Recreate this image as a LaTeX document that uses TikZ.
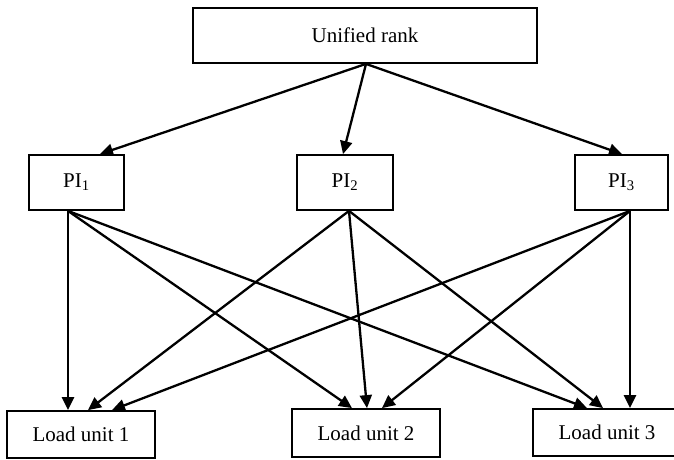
\documentclass[tikz,border=0pt]{standalone}
\usepackage{fontspec}
\setmainfont{Liberation Serif}
\usetikzlibrary{arrows.meta}
\begin{document}
\begin{tikzpicture}[x=1pt,y=-1pt,
  box/.style={draw,line width=1.8pt,rectangle,inner sep=0pt,
    font=\fontsize{21}{24}\selectfont},
  link/.style={line width=2.3pt,-{Triangle[length=13pt,width=12pt]}}]
\useasboundingbox (0,0) rectangle (674,459);
% top level
\node[box,minimum width=344pt,minimum height=55pt] (top) at (365,35.5) {Unified rank};
% performance indices
\node[box,minimum width=95pt,minimum height=55pt] (pi1) at (76.5,182.5) {PI\textsubscript{1}};
\node[box,minimum width=96pt,minimum height=55pt] (pi2) at (345,182.5) {PI\textsubscript{2}};
\node[box,minimum width=93pt,minimum height=55pt] (pi3) at (621.5,182.5) {PI\textsubscript{3}};
% load units
\node[box,minimum width=148pt,minimum height=47pt] (lu1) at (81,434.5) {Load unit 1};
\node[box,minimum width=148pt,minimum height=48pt] (lu2) at (366,433) {Load unit 2};
\node[box,minimum width=148pt,minimum height=47pt] (lu3) at (607,432.5) {Load unit 3};
% rank to indices
\draw[link] ([xshift=1pt]top.south) -- ([xshift=23.5pt]pi1.north);
\draw[link] ([xshift=1pt]top.south) -- ([xshift=-2pt]pi2.north);
\draw[link] ([xshift=1pt]top.south) -- ([xshift=0.5pt]pi3.north);
% indices to load units
\draw[link] ([xshift=-8.5pt]pi1.south) -- ([xshift=-13pt]lu1.north);
\draw[link] ([xshift=-8.5pt]pi1.south) -- ([xshift=-14pt]lu2.north);
\draw[link] ([xshift=-8.5pt]pi1.south) -- ([xshift=-20pt]lu3.north);
\draw[link] ([xshift=4pt]pi2.south) -- ([xshift=7pt]lu1.north);
\draw[link] ([xshift=4pt]pi2.south) -- ([xshift=1pt]lu2.north);
\draw[link] ([xshift=4pt]pi2.south) -- ([xshift=-4pt]lu3.north);
\draw[link] ([xshift=8.5pt]pi3.south) -- ([xshift=31pt]lu1.north);
\draw[link] ([xshift=8.5pt]pi3.south) -- ([xshift=16pt]lu2.north);
\draw[link] ([xshift=8.5pt]pi3.south) -- ([xshift=23pt]lu3.north);
\end{tikzpicture}
\end{document}
